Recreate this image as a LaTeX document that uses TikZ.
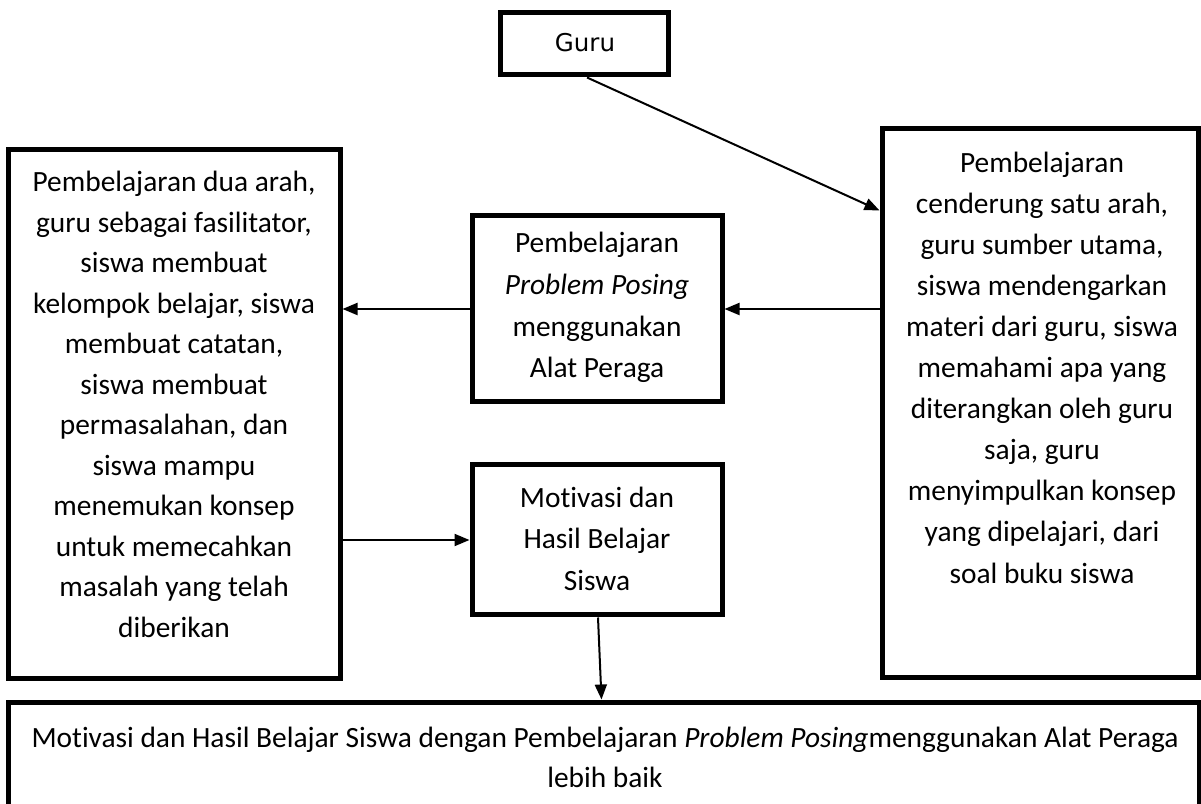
\documentclass[tikz,border=0pt]{standalone}
\usepackage{fontspec}
\setmainfont{Carlito}[Ligatures=NoCommon]
\newfontfamily\gurufont{DejaVu Sans}
\usetikzlibrary{arrows.meta,calc}
\begin{document}
\begin{tikzpicture}[x=1pt,y=1pt,
  box/.style={draw,line width=5pt,rectangle,inner sep=0pt},
  txt/.style={align=center,inner sep=0pt},
  arr/.style={line width=2pt,-{Triangle[length=15pt,width=12pt]}}]
\useasboundingbox (0,0) rectangle (1201,803);
\fill[white] (0,0) rectangle (1201,803);
% boxes
\node[box,minimum width=168pt,minimum height=62pt] (guru) at (584,759) {};
\node[box,minimum width=332pt,minimum height=528pt] (lbox) at (174,389) {};
\node[box,minimum width=250pt,minimum height=186pt] (mtop) at (597,494) {};
\node[box,minimum width=250pt,minimum height=150pt] (mbot) at (597,263) {};
\node[box,minimum width=316pt,minimum height=548pt] (rbox) at (1040,400) {};
\node[box,minimum width=1191pt,minimum height=148pt] (bbox) at (603.5,27) {};
% texts
\node[txt,font=\gurufont\fontsize{24.5}{30}\selectfont] (tguru) at (585,760) {Guru};
\node[txt,font=\fontsize{29.4}{40.5}\selectfont] (tl) at (174,398.5) {Pembelajaran dua arah,\\guru sebagai fasilitator,\\siswa membuat\\kelompok belajar, siswa\\membuat catatan,\\siswa membuat\\permasalahan, dan\\siswa mampu\\menemukan konsep\\untuk memecahkan\\masalah yang telah\\diberikan};
\node[txt,font=\fontsize{29.4}{41.7}\selectfont] (tmt) at (597,495.5) {Pembelajaran\\\textit{Problem Posing}\\menggunakan\\Alat Peraga};
\node[txt,font=\fontsize{29.4}{41.5}\selectfont] (tmb) at (597,264.5) {Motivasi dan\\Hasil Belajar\\Siswa};
\node[txt,font=\fontsize{29.4}{41.1}\selectfont] (tr) at (1042,435.5) {Pembelajaran\\cenderung satu arah,\\guru sumber utama,\\siswa mendengarkan\\materi dari guru, siswa\\memahami apa yang\\diterangkan oleh guru\\saja, guru\\menyimpulkan konsep\\yang dipelajari, dari\\soal buku siswa};
\node[txt,font=\fontsize{29.4}{40}\selectfont] (tb) at (605,46) {Motivasi dan Hasil Belajar Siswa dengan Pembelajaran \textit{Problem Posing}menggunakan Alat Peraga\\lebih baik};
% connectors
\draw[arr] ($(guru.south)+(3,0)$) -- ($(rbox.north west)+(0,-84)$);
\draw[arr] (rbox.west |- mtop.east) -- (mtop.east);
\draw[arr] (mtop.west) -- (mtop.west -| lbox.east);
\draw[arr] (mbot.west -| lbox.east) -- (mbot.west);
\draw[arr] ($(mbot.south)+(1,0)$) -- ($(bbox.north west)+(596,0)$);
\end{tikzpicture}
\end{document}
